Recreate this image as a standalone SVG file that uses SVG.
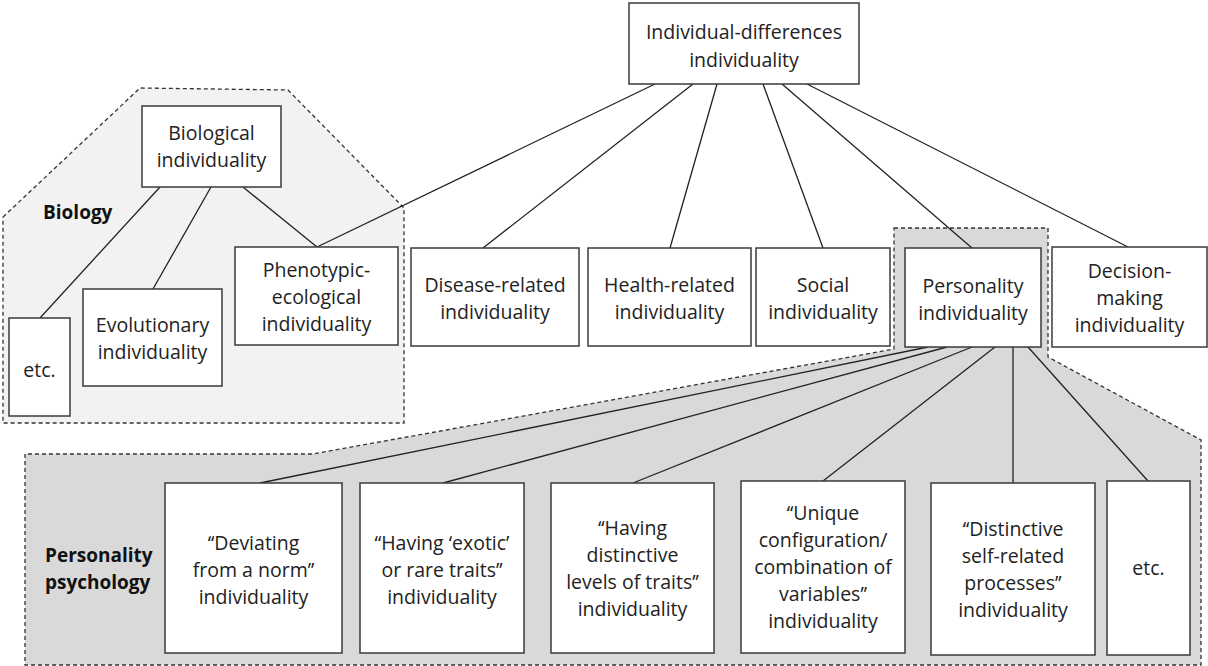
<svg xmlns="http://www.w3.org/2000/svg" width="1208" height="666" viewBox="0 0 1208 666">
<style>
.box{fill:#fff;stroke:#3a3a3a;stroke-width:1.5}
.reg{stroke:#333;stroke-width:1.3;stroke-dasharray:4 3}
.t{font-family:"Open Sans","Noto Sans",sans-serif;font-size:19.5px;fill:#222;text-anchor:middle}
.b{font-family:"Open Sans","Noto Sans",sans-serif;font-size:19px;font-weight:bold;fill:#111;text-anchor:start}
#connectors line{stroke:#222;stroke-width:1.3}
</style>
<rect width="1208" height="666" fill="#fff"/>
<g id="biology-region">
<polygon class="reg" fill="#f2f2f2" points="3,217 140,88 288,90 404,208 404,423 3,423"/>
<text class="b" x="43" y="219">Biology</text>
</g>
<g id="personality-region">
<polygon class="reg" fill="#d9d9d9" points="894,228 1048,228 1048,357 1201,440 1201,665 25,665 25,454 313,454 894,349"/>
<text class="b" x="45" y="562">Personality</text>
<text class="b" x="45" y="589">psychology</text>
</g>
<g id="connectors">
<line x1="655" y1="84" x2="317" y2="247"/>
<line x1="693" y1="84" x2="483" y2="248"/>
<line x1="717" y1="84" x2="670" y2="248"/>
<line x1="763" y1="84" x2="823" y2="248"/>
<line x1="782" y1="84" x2="972" y2="248"/>
<line x1="807" y1="84" x2="1128" y2="247"/>
<line x1="160" y1="187" x2="40" y2="318"/>
<line x1="211" y1="187" x2="153" y2="289"/>
<line x1="243" y1="187" x2="317" y2="247"/>
<line x1="928" y1="347" x2="260" y2="483"/>
<line x1="947" y1="347" x2="443" y2="483"/>
<line x1="972" y1="347" x2="633" y2="483"/>
<line x1="995" y1="347" x2="823" y2="481"/>
<line x1="1013" y1="347" x2="1013" y2="483"/>
<line x1="1028" y1="347" x2="1148" y2="481"/>
</g>
<g id="n-top">
<rect class="box" x="629" y="3" width="230" height="81"/>
<text class="t" x="744" y="39">Individual-differences</text>
<text class="t" x="744" y="67">individuality</text>
</g>
<g id="n-biological">
<rect class="box" x="142" y="106" width="139" height="81"/>
<text class="t" x="211.5" y="140">Biological</text>
<text class="t" x="211.5" y="167">individuality</text>
</g>
<g id="n-bio-etc">
<rect class="box" x="9" y="318" width="61" height="98"/>
<text class="t" x="39.5" y="377">etc.</text>
</g>
<g id="n-evolutionary">
<rect class="box" x="83" y="289" width="139" height="97"/>
<text class="t" x="152.5" y="332">Evolutionary</text>
<text class="t" x="152.5" y="359">individuality</text>
</g>
<g id="n-phenotypic">
<rect class="box" x="235" y="247" width="163" height="98"/>
<text class="t" x="316.5" y="277">Phenotypic-</text>
<text class="t" x="316.5" y="304">ecological</text>
<text class="t" x="316.5" y="331">individuality</text>
</g>
<g id="n-disease">
<rect class="box" x="411" y="248" width="168" height="98"/>
<text class="t" x="495" y="292">Disease-related</text>
<text class="t" x="495" y="319">individuality</text>
</g>
<g id="n-health">
<rect class="box" x="588" y="248" width="163" height="98"/>
<text class="t" x="669.5" y="292">Health-related</text>
<text class="t" x="669.5" y="319">individuality</text>
</g>
<g id="n-social">
<rect class="box" x="756" y="248" width="134" height="98"/>
<text class="t" x="823" y="292">Social</text>
<text class="t" x="823" y="319">individuality</text>
</g>
<g id="n-personality">
<rect class="box" x="905" y="248" width="136" height="99"/>
<text class="t" x="973" y="293">Personality</text>
<text class="t" x="973" y="320">individuality</text>
</g>
<g id="n-decision">
<rect class="box" x="1052" y="247" width="155" height="100"/>
<text class="t" x="1129.5" y="278">Decision-</text>
<text class="t" x="1129.5" y="305">making</text>
<text class="t" x="1129.5" y="332">individuality</text>
</g>
<g id="n-deviating">
<rect class="box" x="165" y="483" width="177" height="170"/>
<text class="t" x="253.5" y="550">‘‘Deviating</text>
<text class="t" x="253.5" y="577">from a norm’’</text>
<text class="t" x="253.5" y="604">individuality</text>
</g>
<g id="n-exotic">
<rect class="box" x="360" y="483" width="164" height="170"/>
<text class="t" x="442" y="550">‘‘Having ‘exotic’</text>
<text class="t" x="442" y="577">or rare traits’’</text>
<text class="t" x="442" y="604">individuality</text>
</g>
<g id="n-levels">
<rect class="box" x="551" y="483" width="163" height="170"/>
<text class="t" x="632.5" y="535">‘‘Having</text>
<text class="t" x="632.5" y="562">distinctive</text>
<text class="t" x="632.5" y="589">levels of traits’’</text>
<text class="t" x="632.5" y="616">individuality</text>
</g>
<g id="n-unique">
<rect class="box" x="741" y="481" width="164" height="172"/>
<text class="t" x="823" y="520">‘‘Unique</text>
<text class="t" x="823" y="547">configuration/</text>
<text class="t" x="823" y="574">combination of</text>
<text class="t" x="823" y="601">variables’’</text>
<text class="t" x="823" y="628">individuality</text>
</g>
<g id="n-self">
<rect class="box" x="931" y="483" width="164" height="172"/>
<text class="t" x="1013" y="536">‘‘Distinctive</text>
<text class="t" x="1013" y="563">self-related</text>
<text class="t" x="1013" y="590">processes’’</text>
<text class="t" x="1013" y="617">individuality</text>
</g>
<g id="n-pers-etc">
<rect class="box" x="1107" y="481" width="83" height="174"/>
<text class="t" x="1148.5" y="575">etc.</text>
</g>
</svg>
